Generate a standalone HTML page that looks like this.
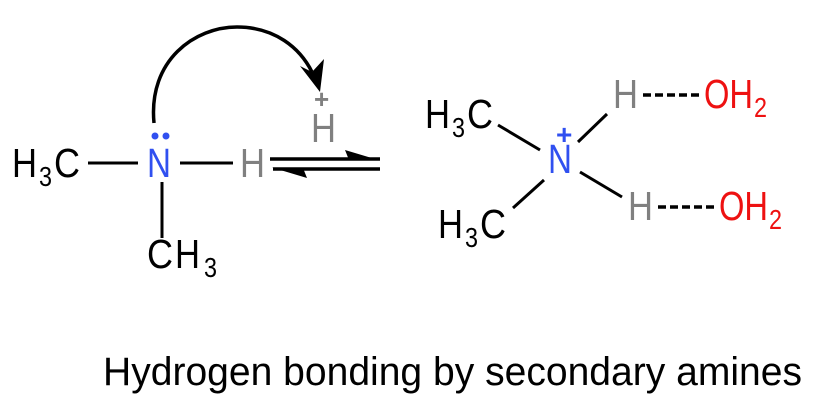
<!DOCTYPE html>
<html><head><meta charset="utf-8"><style>
html,body{margin:0;padding:0;background:#fff;}
svg{display:block;}
text{font-family:"Liberation Sans",Arial,sans-serif;}
</style></head><body>
<svg width="814" height="400" viewBox="0 0 814 400" xmlns="http://www.w3.org/2000/svg">
<g font-size="41">
<!-- Left molecule -->
<text x="12" y="177" textLength="25" lengthAdjust="spacingAndGlyphs">H</text>
<text x="39" y="186" font-size="28" textLength="13" lengthAdjust="spacingAndGlyphs">3</text>
<text x="54" y="177" textLength="26" lengthAdjust="spacingAndGlyphs">C</text>
<line x1="88" y1="163" x2="138" y2="163" stroke="#000" stroke-width="3"/>
<text x="147" y="177" textLength="24" lengthAdjust="spacingAndGlyphs" fill="#3050f0">N</text>
<circle cx="155" cy="136" r="3.5" fill="#3050f0"/>
<circle cx="166" cy="136" r="3.5" fill="#3050f0"/>
<line x1="180" y1="163" x2="233" y2="163" stroke="#000" stroke-width="3"/>
<text x="240" y="177" textLength="25" lengthAdjust="spacingAndGlyphs" fill="#808080">H</text>
<line x1="162" y1="182" x2="162" y2="238" stroke="#000" stroke-width="3"/>
<text x="147" y="268" textLength="26" lengthAdjust="spacingAndGlyphs">C</text>
<text x="175" y="268" textLength="25" lengthAdjust="spacingAndGlyphs">H</text>
<text x="204" y="277" font-size="28" textLength="13" lengthAdjust="spacingAndGlyphs">3</text>
<!-- curved arrow -->
<path d="M154,123 C148,60 195,27 237,27 C275,27 300,48 312,72" fill="none" stroke="#000" stroke-width="3.5"/>
<polygon points="320,92 300,66 312,72 324,59" fill="#000"/>
<!-- H+ -->
<text x="314" y="108" font-size="26" font-weight="bold" fill="#808080">+</text>
<text x="311" y="142" textLength="25" lengthAdjust="spacingAndGlyphs" fill="#808080">H</text>
<!-- equilibrium arrows -->
<line x1="270" y1="159" x2="380" y2="159" stroke="#000" stroke-width="3.5"/>
<polygon points="380,160.5 345,150 348,157.5 348,160.5" fill="#000"/>
<line x1="273" y1="169" x2="380" y2="169" stroke="#000" stroke-width="3.5"/>
<polygon points="272,167.5 307,178 304,170.5 304,167.5" fill="#000"/>
<!-- Right molecule -->
<text x="425" y="128" textLength="25" lengthAdjust="spacingAndGlyphs">H</text>
<text x="452" y="137" font-size="28" textLength="13" lengthAdjust="spacingAndGlyphs">3</text>
<text x="467" y="128" textLength="26" lengthAdjust="spacingAndGlyphs">C</text>
<line x1="498" y1="125" x2="540" y2="150" stroke="#000" stroke-width="3"/>
<text x="548" y="173" textLength="24" lengthAdjust="spacingAndGlyphs" fill="#3050f0">N</text>
<text x="556" y="144" font-size="28" font-weight="bold" fill="#3050f0">+</text>
<line x1="578" y1="142" x2="607" y2="114" stroke="#000" stroke-width="3"/>
<text x="613" y="108" textLength="25" lengthAdjust="spacingAndGlyphs" fill="#808080">H</text>
<line x1="643" y1="95" x2="700" y2="95" stroke="#000" stroke-width="3.5" stroke-dasharray="8,4"/>
<text x="704" y="108" textLength="49" lengthAdjust="spacingAndGlyphs" fill="#ee1111">OH</text>
<text x="754" y="117" font-size="28" textLength="13" lengthAdjust="spacingAndGlyphs" fill="#ee1111">2</text>
<line x1="544" y1="180" x2="513" y2="208" stroke="#000" stroke-width="3"/>
<text x="438" y="238" textLength="25" lengthAdjust="spacingAndGlyphs">H</text>
<text x="465" y="247" font-size="28" textLength="13" lengthAdjust="spacingAndGlyphs">3</text>
<text x="480" y="238" textLength="26" lengthAdjust="spacingAndGlyphs">C</text>
<line x1="580" y1="172" x2="622" y2="197" stroke="#000" stroke-width="3"/>
<text x="628" y="220" textLength="25" lengthAdjust="spacingAndGlyphs" fill="#808080">H</text>
<line x1="658" y1="207" x2="715" y2="207" stroke="#000" stroke-width="3.5" stroke-dasharray="8,4"/>
<text x="719" y="220" textLength="49" lengthAdjust="spacingAndGlyphs" fill="#ee1111">OH</text>
<text x="769" y="229" font-size="28" textLength="13" lengthAdjust="spacingAndGlyphs" fill="#ee1111">2</text>
<!-- caption -->
<text x="103" y="385" font-size="40" textLength="699" lengthAdjust="spacingAndGlyphs">Hydrogen bonding by secondary amines</text>
</g>
</svg>
</body></html>
